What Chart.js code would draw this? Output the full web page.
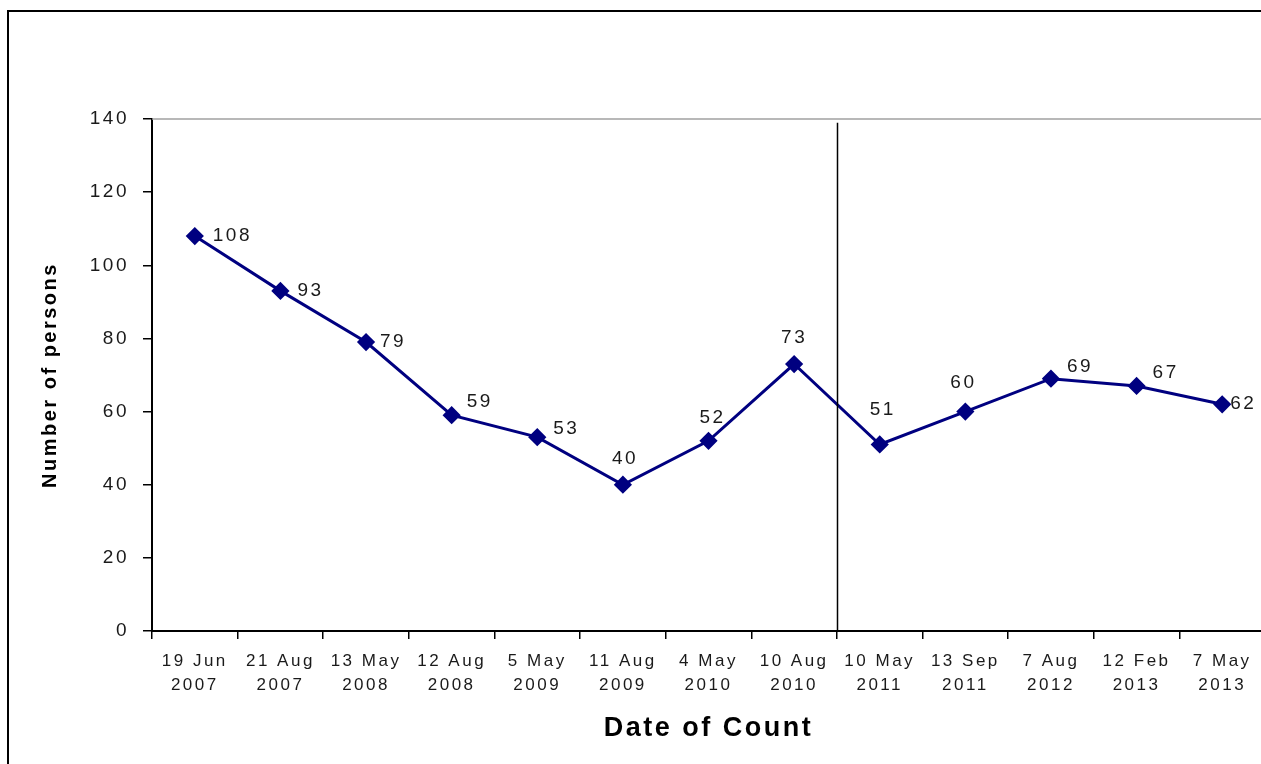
<!DOCTYPE html>
<html>
<head>
<meta charset="utf-8">
<script src="https://cdn.jsdelivr.net/npm/chart.js@4/dist/chart.umd.min.js"></script>
<style>
  html, body { margin: 0; padding: 0; background: #fff; overflow: hidden; }
  canvas { display: block; }
</style>
</head>
<body>
<canvas id="chart" width="1275" height="764"></canvas>
<script>
const categories = [
  ["19 Jun", "2007"], ["21 Aug", "2007"], ["13 May", "2008"], ["12 Aug", "2008"],
  ["5 May", "2009"], ["11 Aug", "2009"], ["4 May", "2010"], ["10 Aug", "2010"],
  ["10 May", "2011"], ["13 Sep", "2011"], ["7 Aug", "2012"], ["12 Feb", "2013"],
  ["7 May", "2013"]
];
const persons = [108, 93, 79, 59, 53, 40, 52, 73, 51, 60, 69, 67, 62];
const yTicks = [0, 20, 40, 60, 80, 100, 120, 140];

// where each value label sits, relative to its point (left edge, vertical centre)
const labelOffsets = [
  [18, 0], [17, 0], [14, 0], [15, -13], [16, -8], [-11, -26], [-9, -23],
  [-13, -26], [-10, -35], [-15, -29], [16, -12], [16, -13], [8, 0]
];
// the divider sits between these two counts
const dividerAfter = 7;

const FONT = "'Liberation Sans', Arial, sans-serif";
const NAVY = "#000080";
const TEXT = "#1a1a1a";

const framePlugin = {
  id: "frame",
  beforeDraw(chart) {
    const ctx = chart.ctx;
    ctx.save();
    ctx.fillStyle = "#fff";
    ctx.fillRect(0, 0, chart.width, chart.height);
    ctx.strokeStyle = "#000";
    ctx.lineWidth = 2;
    ctx.strokeRect(8, 11, chart.width + 20, chart.height + 20);
    ctx.restore();
    // Excel-ish wide text
    ctx.letterSpacing = "2.5px";
  },
  afterDraw(chart) {
    const { ctx, chartArea, scales } = chart;
    ctx.save();
    // plot area top border
    ctx.strokeStyle = "#a0a0a0";
    ctx.lineWidth = 1.5;
    ctx.beginPath();
    ctx.moveTo(chartArea.left, chartArea.top);
    ctx.lineTo(chartArea.right, chartArea.top);
    ctx.stroke();
    // divider between 2010 and 2011 counts
    const x = Math.round((scales.x.getPixelForValue(dividerAfter) +
      scales.x.getPixelForValue(dividerAfter + 1)) / 2) + 0.5;
    ctx.strokeStyle = "#000";
    ctx.lineWidth = 1.5;
    ctx.beginPath();
    ctx.moveTo(x, scales.y.getPixelForValue(139));
    ctx.lineTo(x, scales.y.getPixelForValue(0));
    ctx.stroke();
    ctx.restore();
  },
  afterDatasetsDraw(chart) {
    const ctx = chart.ctx;
    const meta = chart.getDatasetMeta(0);
    ctx.save();
    ctx.font = "19px " + FONT;
    ctx.fillStyle = TEXT;
    ctx.textAlign = "left";
    ctx.textBaseline = "middle";
    meta.data.forEach((pt, i) => {
      const [dx, dy] = labelOffsets[i];
      ctx.fillText(String(persons[i]), pt.x + dx, pt.y + dy);
    });
    ctx.restore();
  }
};

new Chart(document.getElementById("chart"), {
  type: "line",
  data: {
    labels: categories,
    datasets: [{
      data: persons,
      borderColor: NAVY,
      backgroundColor: NAVY,
      borderWidth: 3,
      pointStyle: "rectRot",
      pointRadius: 7,
      pointBackgroundColor: NAVY,
      pointBorderColor: NAVY,
      tension: 0
    }]
  },
  options: {
    responsive: false,
    animation: false,
    layout: { padding: { top: 119, left: 0, right: 10, bottom: 0 } },
    plugins: {
      legend: { display: false },
      tooltip: { enabled: false }
    },
    scales: {
      x: {
        type: "category",
        offset: true,
        afterFit(scale) { scale.height = 133; },
        grid: {
          offset: true,
          drawOnChartArea: false,
          drawTicks: true,
          tickLength: 8,
          color: "#000",
          lineWidth: 1.5
        },
        border: { color: "#000", width: 2 },
        ticks: {
          autoSkip: false,
          maxRotation: 0,
          padding: 10,
          color: TEXT,
          font: { family: FONT, size: 17, lineHeight: 1.41 }
        },
        title: {
          display: true,
          text: "Date of Count",
          color: "#000",
          font: { family: FONT, size: 27, weight: "bold" },
          padding: { top: 0, bottom: 19 }
        }
      },
      y: {
        min: 0,
        max: 140,
        afterFit(scale) { scale.width = 152; },
        afterBuildTicks(scale) { scale.ticks = yTicks.map(v => ({ value: v })); },
        grid: {
          drawOnChartArea: false,
          drawTicks: true,
          tickLength: 9,
          color: "#000",
          lineWidth: 1.5
        },
        border: { color: "#000", width: 2 },
        ticks: {
          padding: 14,
          color: TEXT,
          font: { family: FONT, size: 19 }
        },
        title: {
          display: true,
          text: "Number of persons",
          color: "#000",
          font: { family: FONT, size: 20, weight: "bold" },
          padding: { top: 38, bottom: 0 }
        }
      }
    }
  },
  plugins: [framePlugin]
});
</script>
</body>
</html>
